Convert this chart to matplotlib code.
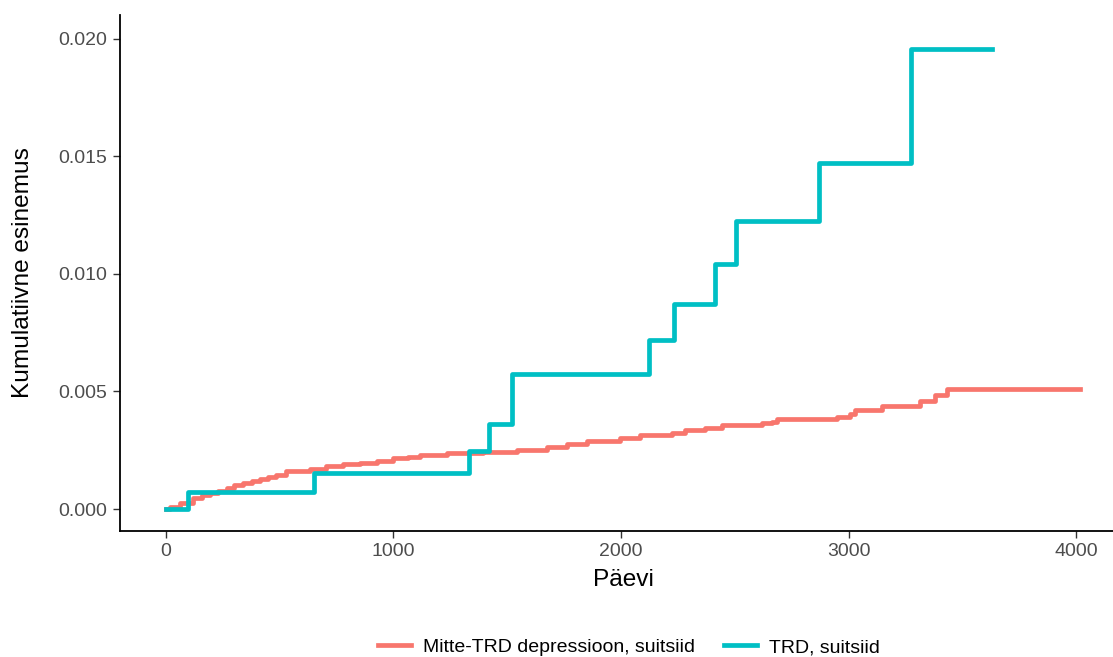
import numpy as np
import matplotlib.pyplot as plt
from matplotlib.ticker import FormatStrFormatter

plt.rcParams['font.family'] = ['Liberation Sans', 'DejaVu Sans']

# Kumulatiivne esinemus: mitte-TRD depressioon
red_days = [0, 20, 62, 119, 160, 193, 230, 267, 300, 340, 380, 413, 450, 486,
            530, 633, 706, 780, 853, 926, 1000, 1064, 1116, 1235, 1394, 1543,
            1674, 1762, 1850, 1996, 2084, 2224, 2281, 2369, 2444, 2620, 2664,
            2686, 2949, 3007, 3029, 3146, 3314, 3380, 3432]
red_vals = [0, 0.0001, 0.00024, 0.00047, 0.00058, 0.00068, 0.00078, 0.00089,
            0.001, 0.0011, 0.0012, 0.00127, 0.00136, 0.00144, 0.00163, 0.0017,
            0.00183, 0.00191, 0.00197, 0.00205, 0.00215, 0.00222, 0.00229,
            0.00236, 0.00243, 0.0025, 0.00265, 0.00276, 0.0029, 0.003, 0.00314,
            0.00325, 0.00335, 0.00345, 0.00357, 0.00364, 0.00371, 0.00382,
            0.00392, 0.00406, 0.00423, 0.00439, 0.0046, 0.00484, 0.00512]
red_end = 4018

# TRD
teal_days = [0, 98, 651, 1333, 1421, 1520, 1523, 2121, 2231, 2413, 2505, 2870, 3274]
teal_vals = [0, 0.00071, 0.00152, 0.00247, 0.0036, 0.00465, 0.00573, 0.00718,
             0.00873, 0.0104, 0.01225, 0.0147, 0.01956]
teal_end = 3629

labels = ['Mitte-TRD depressioon, suitsiid', 'TRD, suitsiid']
colors = ['#F8766D', '#00BFC4']

fig = plt.figure(figsize=(11.13, 6.57), dpi=100)
ax = fig.add_axes([0.1078, 0.1918, 0.9040, 0.7854])

ax.step(np.append(red_days, red_end), np.append(red_vals, red_vals[-1]),
        where='post', color=colors[0], lw=3.4, label=labels[0])
ax.step(np.append(teal_days, teal_end), np.append(teal_vals, teal_vals[-1]),
        where='post', color=colors[1], lw=3.4, label=labels[1])

ax.set_xlim(-201, 4219)
ax.set_ylim(-0.000934, 0.0210)
ax.set_xticks([0, 1000, 2000, 3000, 4000])
ax.set_yticks([0, 0.005, 0.010, 0.015, 0.020])
ax.yaxis.set_major_formatter(FormatStrFormatter('%.3f'))

for side in ['top', 'right']:
    ax.spines[side].set_visible(False)
for side in ['left', 'bottom']:
    ax.spines[side].set_linewidth(1.3)
    ax.spines[side].set_color('black')

ax.tick_params(axis='both', length=5, width=1, color='#333333',
               labelsize=14, labelcolor='#4D4D4D', pad=4)

ax.set_xlabel('Päevi', fontsize=17.6, labelpad=6)
ax.set_ylabel('Kumulatiivne esinemus', fontsize=17.6, labelpad=18)

fig.legend(loc='center', bbox_to_anchor=(0.565, 0.0145), ncol=2,
           frameon=False, fontsize=14, handlelength=1.7, handletextpad=0.62,
           columnspacing=1.45)

fig.savefig('out.png', dpi=100)
